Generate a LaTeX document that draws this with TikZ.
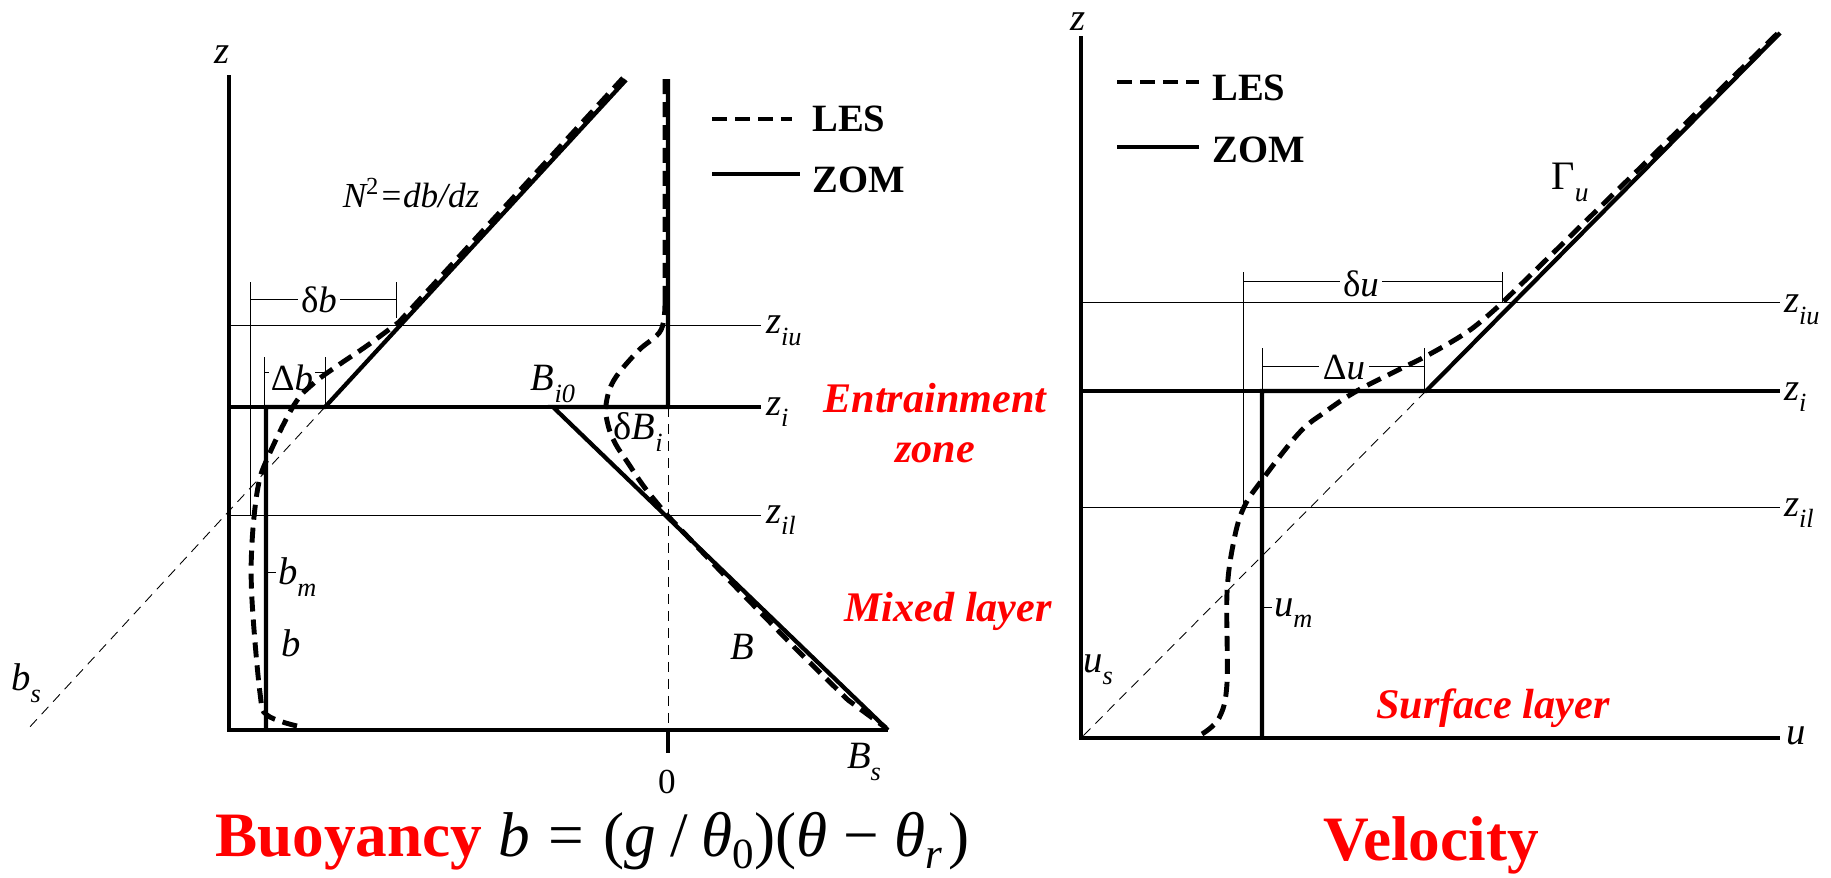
\documentclass[tikz,border=0pt]{standalone}
\usepackage{fontspec}
\setmainfont{Liberation Serif}
\usetikzlibrary{positioning}
\newcommand{\lsub}[2]{#1\raisebox{-0.3em}{\scalebox{0.68}{#2}}}

\begin{document}
\begin{tikzpicture}[x=0.02cm,y=-0.02cm,
  axis/.style={line width=1.9pt},
  zom/.style={line width=2.4pt},
  les/.style={line width=2.8pt,dash pattern=on 0.3cm off 0.16cm},
  lev/.style={line width=0.5pt},
  guide/.style={line width=0.5pt,dash pattern=on 0.2cm off 0.14cm},
  lbl/.style={font=\fontsize{22}{26}\selectfont\itshape,inner sep=1pt},
  dim/.style={font=\fontsize{21}{25}\selectfont\itshape,inner sep=2pt,fill=white},
  leg/.style={font=\fontsize{22}{26}\selectfont\bfseries,anchor=west,inner sep=0pt},
  zone/.style={font=\fontsize{24}{28}\selectfont\bfseries\itshape,text=red,align=center},
  ttl/.style={font=\fontsize{36}{40}\selectfont,inner sep=0pt}]
\useasboundingbox (0,0) rectangle (1831,877);

\coordinate (bo) at (229,730);
\coordinate (bi) at (325,407);
\coordinate (Bi) at (553,407);
\coordinate (Bz) at (668,407);
\coordinate (Bs) at (888,730);
\node[lbl,anchor=base] (zb) at (222,63) {z};
\draw[axis] (229,75) -- (bo) -- (Bs);
\draw[axis] (668,730) -- (668,753);
\node[lbl,font=\fontsize{20}{24}\selectfont] (zero) at (667,782) {0};
\node[lbl] (bsB) at (864,762) {\lsub{B}{s}};
\draw[lev] (229,325) -- (761,325);
\draw[axis] (229,407) -- (761,407);
\draw[lev] (229,515) -- (761,515);
\node[lbl,anchor=west] (ziu) at (764,331) {\lsub{z}{iu}};
\node[lbl,anchor=west] (zi) at (764,412) {\lsub{z}{i}};
\node[lbl,anchor=west] (zil) at (764,520) {\lsub{z}{il}};
\draw[guide] (bi) -- (27,730);
\draw[guide] (Bz) -- (668,730);
\draw[lev] (250,282) -- (250,515);
\draw[lev] (396,282) -- (396,318);
\draw[lev] (250,299) -- (396,299);
\node[dim] (db) at (319,300) {{\upshape δ}b};
\draw[lev] (325,357) -- (325,407);
\draw[lev] (264,357) -- (264,407);
\draw[lev] (264,372) -- (325,372);
\node[dim,inner sep=1pt] (Db) at (292,378) {{\upshape Δ}b};
\draw[zom] (266,730) -- (266,407) -- (bi) -- (626,80);
\draw[zom] (Bs) -- (Bi) -- (Bz) -- (668,79);
\draw[lev] (266,572) -- (276,572);
\node[lbl,anchor=west] (bm) at (276,577) {\lsub{b}{m}};
\node[lbl] (bb) at (291,643) {b};
\node[lbl] (bsb) at (26,683) {\lsub{b}{s}};
\node[lbl] (BB) at (742,647) {B};
\node[lbl] (Bi0) at (553,384) {\lsub{B}{i0}};
\node[lbl] (dBi) at (638,432) {{\upshape δ}\lsub{B}{i}};
\node[lbl,font=\fontsize{20}{24}\selectfont\itshape] (N2) at (411,193) {N\textsuperscript{\upshape 2}=db/dz};
\draw[les] plot[smooth,tension=0.6] coordinates {(297,726) (267,715) (260,693) (252,600) (252,543) (258,487) (268,457) (294,405) (314,383) (340,364) (368,345) (399,322)} -- (623,78);
\draw[les] (665,79) -- (665,300) plot[smooth,tension=0.6] coordinates {(665,300) (661,330) (638,351) (614,380) (606,405) (608,425) (615,443) (628,463) (645,488) (667,515)} -- (727,578) -- (795,648) -- (848,700) -- (886,728);
\draw[les] (712,119) -- (792,119);
\draw[zom] (712,174) -- (800,174);
\node[leg] (lesb) at (812,119) {LES};
\node[leg] (zomb) at (812,180) {ZOM};
\node[zone] (ent) at (935,423) {Entrainment\\zone};
\node[zone] (mix) at (948,611) {Mixed layer};
\node[ttl,anchor=base west] (tb) at (215,856) {\textcolor{red}{\bfseries Buoyancy}\hspace{0.25em}\textit{b}\hspace{0.3em}=\hspace{0.3em}(\textit{g}\hspace{0.22em}/\hspace{0.22em}\textit{θ}\raisebox{-0.2em}{\scalebox{0.68}{0}})(\textit{θ}\hspace{0.25em}−\hspace{0.25em}\textit{θ}\raisebox{-0.2em}{\scalebox{0.68}{\textit{r}}}\hspace{0.1em})};

\coordinate (uo) at (1081,738);
\coordinate (ui) at (1426,391);
\node[lbl,anchor=base,inner sep=0pt] (zu) at (1078,30) {z};
\draw[axis] (1081,36) -- (uo) -- (1780,738);
\node[lbl,anchor=west] (ul) at (1784,736) {u};
\draw[lev] (1081,302) -- (1780,302);
\draw[zom] (1081,391) -- (1780,391);
\draw[lev] (1081,507) -- (1780,507);
\node[lbl,anchor=west] (ziu2) at (1782,310) {\lsub{z}{iu}};
\node[lbl,anchor=west] (zi2) at (1782,397) {\lsub{z}{i}};
\node[lbl,anchor=west] (zil2) at (1782,513) {\lsub{z}{il}};
\draw[guide] (ui) -- (uo);
\draw[lev] (1243,272) -- (1243,507);
\draw[lev] (1502,272) -- (1502,302);
\draw[lev] (1243,281) -- (1502,281);
\node[dim] (du) at (1361,284) {{\upshape δ}u};
\draw[lev] (1262,348) -- (1262,391);
\draw[lev] (1424,348) -- (1424,391);
\draw[lev] (1262,366) -- (1424,366);
\node[dim] (Du) at (1344,368) {{\upshape Δ}u};
\draw[zom] (1262,738) -- (1262,391) -- (ui) -- (1780,33);
\draw[lev] (1262,607) -- (1272,607);
\node[lbl,anchor=west] (um) at (1272,613) {\lsub{u}{m}};
\node[lbl] (us) at (1098,670) {\lsub{u}{s}};
\node[lbl,font=\fontsize{23}{27}\selectfont\itshape] (gu) at (1570,182) {{\upshape Γ}\lsub{}{u}};
\draw[les] plot[smooth,tension=0.6] coordinates {(1202,734) (1219,718) (1227,683) (1227,593) (1234,540) (1244,507) (1262,480) (1299,433) (1325,412) (1355,392) (1394,372) (1430,354) (1470,330) (1502,303)} -- (1778,33);
\draw[les] (1117,82) -- (1199,82);
\draw[zom] (1117,147) -- (1199,147);
\node[leg] (lesu) at (1212,88) {LES};
\node[leg] (zomu) at (1212,150) {ZOM};
\node[zone] (sfc) at (1493,708) {Surface layer};
\node[ttl,anchor=base,font=\fontsize{36}{40}\selectfont\bfseries,text=red] (tu) at (1431,860) {Velocity};
\end{tikzpicture}
\end{document}
